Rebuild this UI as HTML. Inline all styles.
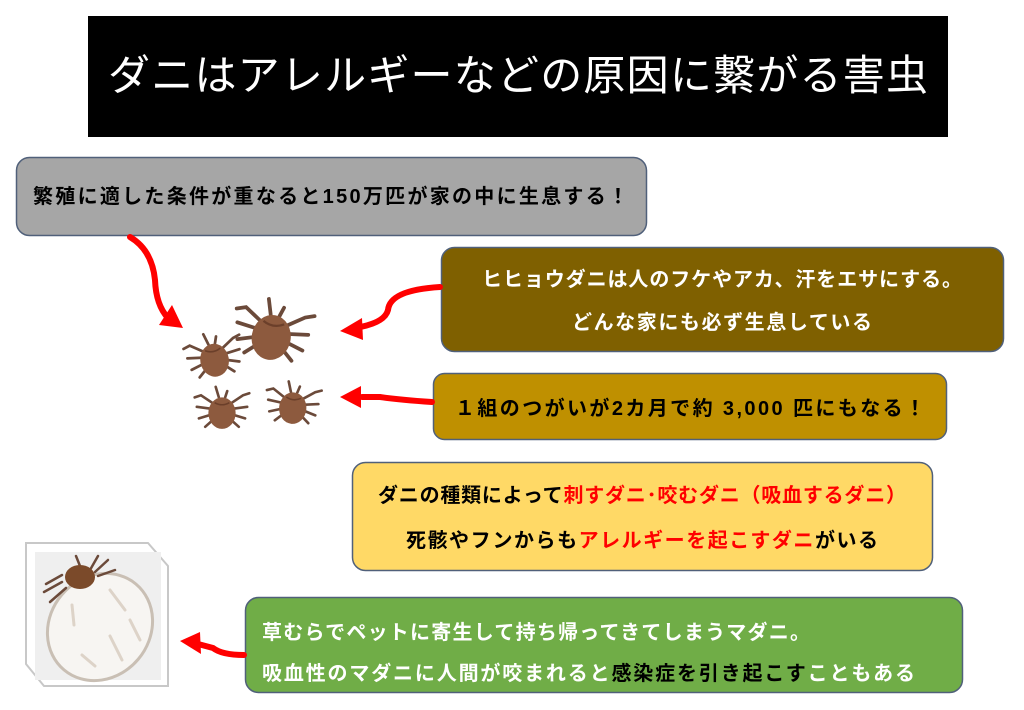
<!DOCTYPE html>
<html><head><meta charset="utf-8"><style>
body{margin:0;width:1024px;height:705px;background:#fff;overflow:hidden}
svg text{font-family:"Liberation Sans","Noto Sans CJK JP",sans-serif}
</style></head><body>
<svg width="1024" height="705" viewBox="0 0 1024 705" xmlns="http://www.w3.org/2000/svg">
<defs>
<g id="tick">
 <g stroke="#6b4a3a" stroke-width="2.5" fill="none" stroke-linecap="round">
  <path d="M-8,-6 L-20,-14 L-26,-12"/><path d="M-9,-1 L-24,-3"/><path d="M-9,4 L-22,8"/><path d="M-7,8 L-16,16"/>
  <path d="M8,-6 L20,-14 L26,-16"/><path d="M9,-1 L24,-3"/><path d="M9,4 L22,8"/><path d="M7,8 L16,16"/>
  <path d="M-3,-12 L-6,-22"/><path d="M3,-12 L5,-18"/>
 </g>
 <ellipse cx="0" cy="3" rx="13" ry="15" fill="#8d5a3e"/>
 <path d="M-7,-7 Q0,-3 7,-7" stroke="#6b3f2a" fill="none" stroke-width="1.5"/>
</g>
</defs>
<rect x="88" y="16" width="860" height="121" fill="#000"/>
<text x="518" y="90" font-size="42" fill="#fff" text-anchor="middle" textLength="820">ダニはアレルギーなどの原因に繋がる害虫</text>

<rect x="16.5" y="157.5" width="630" height="78" rx="13" fill="#a6a6a6" stroke="#50607a" stroke-width="1.5"/>
<text x="33" y="203" font-size="20" font-weight="bold" fill="#000" textLength="595">繁殖に適した条件が重なると150万匹が家の中に生息する！</text>

<rect x="441.5" y="247.5" width="562" height="104" rx="13" fill="#7f6000" stroke="#50607a" stroke-width="1.5"/>
<text x="722" y="286" font-size="20" font-weight="bold" fill="#fff" text-anchor="middle" textLength="480">ヒヒョウダニは人のフケやアカ、汗をエサにする。</text>
<text x="722" y="329" font-size="20" font-weight="bold" fill="#fff" text-anchor="middle" textLength="300">どんな家にも必ず生息している</text>

<rect x="433.5" y="373.5" width="513" height="66" rx="11" fill="#bf9000" stroke="#50607a" stroke-width="1.5"/>
<text x="690" y="415" font-size="20" font-weight="bold" fill="#000" text-anchor="middle" textLength="470">１組のつがいが2カ月で約 3,000 匹にもなる！</text>

<rect x="352.5" y="462.5" width="580" height="108" rx="13" fill="#ffd966" stroke="#50607a" stroke-width="1.5"/>
<text x="642" y="502" font-size="20" font-weight="bold" fill="#000" text-anchor="middle" textLength="528">ダニの種類によって<tspan fill="#ff0000">刺すダニ･咬むダニ（吸血するダニ）</tspan></text>
<text x="642" y="547" font-size="20" font-weight="bold" fill="#000" text-anchor="middle" textLength="472">死骸やフンからも<tspan fill="#ff0000">アレルギーを起こすダニ</tspan>がいる</text>

<rect x="245.5" y="597.5" width="717" height="95" rx="13" fill="#70ad47" stroke="#50607a" stroke-width="1.5"/>
<text x="262" y="639" font-size="20" font-weight="bold" fill="#fff" textLength="548">草むらでペットに寄生して持ち帰ってきてしまうマダニ。</text>
<text x="262" y="680" font-size="20" font-weight="bold" fill="#fff" textLength="653">吸血性のマダニに人間が咬まれると<tspan fill="#000">感染症を引き起こす</tspan>こともある</text>

<g fill="none" stroke="#ff0000" stroke-width="6" stroke-linecap="round">
 <path d="M130,237 Q152,250 155,280 Q156,305 168,318"/>
 <path d="M440,287 Q390,290 388,310 Q385,322 360,327"/>
 <path d="M432,402 Q400,400 380,397 L362,397"/>
 <path d="M244,655 Q222,655 213,648 L198,644"/>
</g>
<g fill="#ff0000">
 <polygon points="159,325 183,328 172,305"/>
 <polygon points="340,331 362,318 363,340"/>
 <polygon points="340,397 361,386 361,408"/>
 <polygon points="180,641 200,632 201,654"/>
</g>

<use href="#tick" transform="translate(272,333) scale(1.5) rotate(10)"/>
<use href="#tick" transform="translate(214,357) scale(1.1) rotate(-10)"/>
<use href="#tick" transform="translate(222,410) scale(1.05)"/>
<use href="#tick" transform="translate(293,405) scale(1.05) rotate(5)"/>

<polygon points="26,543 148,543 168,566 168,686 44,686 26,664" fill="#fff" stroke="#c8c8c8" stroke-width="2"/>
<rect x="35" y="552" width="126" height="128" fill="#efefef"/>
<ellipse cx="100" cy="627" rx="56" ry="50" transform="rotate(-50 100 627)" fill="#f7f5f2" stroke="#c9bfb4" stroke-width="3"/>
<g stroke="#6b4a3a" stroke-width="2.5" stroke-linecap="round">
 <path d="M62,575 L46,584"/><path d="M62,582 L44,592"/><path d="M66,588 L50,602"/>
 <path d="M90,570 L98,556"/><path d="M95,572 L108,560"/><path d="M98,576 L115,570"/><path d="M80,566 L76,556"/>
</g>
<ellipse cx="80" cy="577" rx="15" ry="12" fill="#7b4a2a"/>
<g stroke="#ddd3c8" stroke-width="3" fill="none" stroke-linecap="round">
 <path d="M72,605 L74,625"/><path d="M110,590 L125,610"/><path d="M82,655 L95,666"/><path d="M110,636 L122,660"/><path d="M130,620 L140,640"/>
</g>
</svg>
</body></html>
